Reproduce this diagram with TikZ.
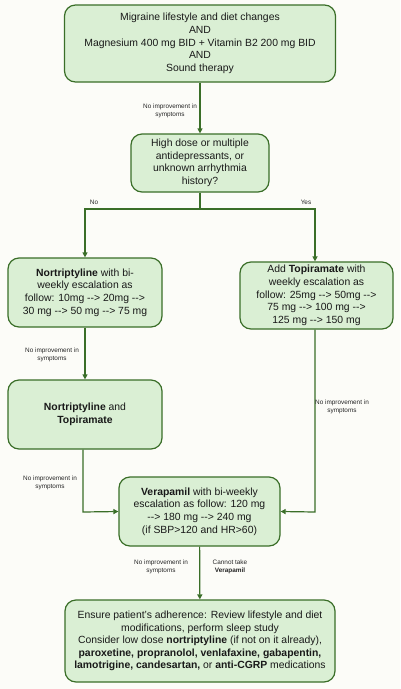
\documentclass[tikz,border=0pt]{standalone}
\usepackage{fontspec}
\setmainfont{Liberation Sans}[Ligatures=NoCommon]
\usetikzlibrary{arrows.meta}
\definecolor{bg}{HTML}{FCFCF8}
\definecolor{boxfill}{HTML}{DAEFD4}
\definecolor{boxline}{HTML}{3A6E28}
\newcommand{\ar}{-\kern0pt-\kern0pt>}
\tikzset{
  box/.style={draw=boxline, fill=boxfill, line width=1.2pt, rounded corners=11pt, align=center, font=\fontsize{10.4}{12.6}\selectfont, inner sep=0pt, text=black!90},
  conn/.style={draw=boxline, line width=1.2pt},
  arr/.style={conn, -{Triangle[length=5pt,width=5pt]}},
  lbl/.style={font=\fontsize{6.4}{7.8}\selectfont, align=center, text=black!85, inner sep=0pt}
}
\begin{document}
\begin{tikzpicture}[x=1pt,y=-1pt]
\fill[bg] (0,0) rectangle (400,689);
\useasboundingbox (0,0) rectangle (400,689);
\node[box, minimum width=271pt, minimum height=77pt] (b1) at (200,43.5) {Migraine lifestyle and diet changes\\AND\\Magnesium 400 mg BID + Vitamin B2 200 mg BID\\AND\\Sound therapy};
\node[box, minimum width=138pt, minimum height=58pt] (b2) at (200,163) {High dose or multiple\\antidepressants, or\\unknown arrhythmia\\history?};
\node[box, minimum width=154pt, minimum height=69pt] (b3) at (85,292.5) {\textbf{Nortriptyline} with bi-\\weekly escalation as\\follow: 10mg \ar{} 20mg \ar\\30 mg \ar{} 50 mg \ar{} 75 mg};
\node[box, minimum width=153pt, minimum height=67pt] (b4) at (316.5,295.5) {Add \textbf{Topiramate} with\\weekly escalation as\\follow: 25mg \ar{} 50mg \ar\\75 mg \ar{} 100 mg \ar\\125 mg \ar{} 150 mg};
\node[box, minimum width=154pt, minimum height=69pt] (b5) at (85,414.5) {\textbf{Nortriptyline} and\\\textbf{Topiramate}};
\node[box, minimum width=161pt, minimum height=69pt] (b6) at (199.5,511.5) {\textbf{Verapamil} with bi-weekly\\escalation as follow: 120 mg\\\ar{} 180 mg \ar{} 240 mg\\(if SBP>120 and HR>60)};
\node[box, minimum width=270pt, minimum height=82pt] (b7) at (200,641) {Ensure patient's adherence: Review lifestyle and diet\\modifications, perform sleep study\\Consider low dose \textbf{nortriptyline} (if not on it already),\\\textbf{paroxetine, propranolol, venlafaxine, gabapentin,}\\\textbf{lamotrigine, candesartan,} or \textbf{anti-CGRP} medications};
\coordinate (split) at (200,209);
\coordinate (sl) at (85,209);
\coordinate (sr) at (315,209);
\coordinate (c5) at (83,512);
\coordinate (c4) at (315,512);
\draw[arr] (b1) -- (b2);
\draw[conn] (b2.south) -- (split);
\draw[arr] (split) -- (sl) -- (b3.north);
\draw[arr] (split) -- (sr) -- (sr |- b4.north);
\draw[arr] (b3) -- (b5);
\draw[arr] (b5.south -| c5) -- (c5) -- (b6.west);
\draw[arr] (b4.south -| c4) -- (c4) -- (b6.east);
\draw[arr] (b6) -- (b7);
\node[lbl] (l1) at (170,111) {No improvement in\\symptoms};
\node[lbl] (l2) at (94,202.5) {No};
\node[lbl] (l3) at (306,202.5) {Yes};
\node[lbl] (l4) at (52,355) {No improvement in\\symptoms};
\node[lbl] (l5) at (342,407) {No improvement in\\symptoms};
\node[lbl] (l6) at (50,483) {No improvement in\\symptoms};
\node[lbl] (l7) at (161,567) {No improvement in\\symptoms};
\node[lbl] (l8) at (230,567) {Cannot take\\\textbf{Verapamil}};
\end{tikzpicture}
\end{document}
